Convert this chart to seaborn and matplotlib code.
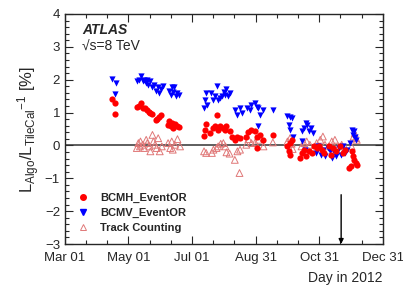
import matplotlib
matplotlib.use('Agg')
import matplotlib.pyplot as plt
from matplotlib.ticker import FixedLocator, MultipleLocator
from matplotlib.lines import Line2D
import seaborn as sns

# day of year 2012 (Mar 01 = 61) and relative deviation in %
bcmh_day = [106, 109, 109,
            130.5, 132.5, 134, 136, 138, 140, 141.5, 143, 145, 148, 149.5, 151.5, 153.5,
            160, 161, 162.5, 164, 165, 167, 169, 170,
            194.5, 195.5, 196.5, 200, 203, 205, 207, 208, 210, 212.5, 214.5, 216, 219, 221,
            224, 226.5, 229, 235, 237, 240, 243.5, 245, 245.5, 248, 251.5, 260.5,
            274.5, 276, 277, 278.5, 276.5,
            287, 288.5, 290.5, 292.5, 295.5, 298, 299.5,
            303, 305, 307.5, 309.5, 314, 316, 318.5, 321.5, 325, 327.5, 330,
            334, 335.5, 337, 338.5, 340, 341, 336.5]
bcmh_val = [1.41, 1.28, 0.95,
            1.17, 1.2, 1.29, 1.14, 1.14, 1.08, 1.03, 0.98, 0.96, 0.76, 0.8, 0.86, 0.93,
            0.63, 0.73, 0.58, 0.68, 0.53, 0.66, 0.58, 0.56,
            0.29, 0.48, 0.66, 0.38, 0.53, 0.58, 0.93, 0.48, 0.58, 0.53, 0.48, 0.58, 0.43, 0.27,
            0.17, 0.27, 0.22, 0.27, 0.4, 0.46, 0.43, -0.08, 0.25, 0.32, 0.17, 0.32,
            -0.03, -0.18, -0.28, 0.15, 0.07,
            -0.38, -0.23, -0.13, -0.33, -0.18, -0.23, -0.03,
            -0.08, -0.03, -0.13, -0.23, -0.03, -0.28, -0.08, -0.18, -0.03, -0.23, -0.13,
            -0.69, -0.64, -0.33, -0.44, -0.54, -0.59, -0.18]

bcmv_day = [106, 110, 109,
            130, 132, 134, 136, 137, 139, 140, 141, 143, 145, 146.5,
            148, 150, 151, 153, 155,
            161, 162.5, 164, 165, 166, 167.5, 169, 170,
            194.5, 195.5, 196.5, 197, 201, 203, 205, 207, 208, 210, 212, 214, 215, 216, 217.5, 219,
            224, 226.5, 229, 230.5, 235.5, 238.5, 240, 243.5, 245, 246.5, 248, 251.5, 260.5, 246.5,
            274.5, 276.5, 278.5, 275.5, 277, 279.5,
            288, 290, 292.5, 293.5, 295.5, 297, 299, 288, 291.5,
            302, 304, 306.5, 308.5, 310.5, 313, 315, 317, 318.5, 321, 323.5, 325.5, 328, 330, 331.5,
            336, 338, 337, 339, 340, 334.5]
bcmv_val = [2.03, 1.9, 1.56,
            1.95, 2.0, 2.1, 1.95, 2.0, 1.9, 2.0, 1.85, 1.95, 1.77, 1.85,
            1.67, 1.77, 1.61, 1.71, 1.81,
            1.67, 1.54, 1.77, 1.64, 1.77, 1.49, 1.59, 1.54,
            1.13, 1.39, 1.59, 1.23, 1.59, 1.39, 1.49, 1.81, 1.39, 1.44, 1.49, 1.64, 1.54, 1.71, 1.49, 1.59,
            1.08, 0.93, 1.13, 0.98, 1.13, 1.08, 1.23, 1.29, 1.17, 1.13, 0.93, 1.08, 1.08, 0.6,
            0.88, 0.86, 0.83, 0.63, 0.46, 0.27,
            0.43, 0.53, 0.68, 0.63, 0.43, 0.53, 0.38, 0.12, -0.13,
            -0.23, -0.03, -0.28, -0.13, -0.33, -0.08, -0.18, -0.38, -0.13, -0.33, -0.08, -0.28, -0.03, -0.23, -0.13,
            0.48, 0.43, 0.32, 0.25, 0.17, 0.07]

track_day = [130, 131.5, 133, 133.5, 135.5, 137, 139, 140, 142, 143, 145, 146, 147.5, 149, 150.5,
             152, 154, 160, 162, 163.5, 164.5, 166.5, 169, 171.5,
             194.5, 196.5, 202, 203.5, 206.5, 208, 210.5, 213, 215, 216, 219, 224, 226.5, 228.5,
             229, 235, 237, 240, 243.5, 246.5, 251.5, 260.5,
             274.5, 277, 278.5, 279.5,
             288, 290.5, 293, 296, 299.5,
             302.5, 306, 308.5, 310.5, 314, 317, 320, 323.5, 326.5, 330,
             336, 338, 339, 340, 341]
track_val = [-0.08, 0.07, -0.03, 0.12, 0.02, -0.08, 0.17, 0.07, -0.03, -0.18, 0.32, 0.12, 0.02, -0.08, 0.22,
             -0.18, -0.03, 0.07, -0.08, 0.12, -0.13, 0.02, 0.19, -0.03,
             -0.18, -0.23, -0.23, -0.13, -0.08, -0.03, 0.05, 0.07, -0.03, -0.21, -0.25, -0.44, -0.18, -0.84,
             -0.13, 0.02, 0.19, 0.07, 0.09, 0.17, -0.03, 0.09,
             0.12, 0.22, 0.05, -0.11,
             -0.03, 0.07, 0.12, 0.02, -0.08,
             0.07, 0.17, 0.27, 0.02, -0.03, 0.12, 0.17, -0.03, 0.02, -0.08,
             -0.03, 0.27, 0.37, 0.22, 0.17]

tick_days = [61, 122, 183, 244, 305, 366]
tick_labels = ['Mar 01', 'May 01', 'Jul 01', 'Aug 31', 'Oct 31', 'Dec 31']
arrow_day = 326

sns.set_style('ticks')
plt.rcParams['font.family'] = ['Liberation Sans', 'DejaVu Sans']
plt.rcParams['mathtext.fontset'] = 'custom'
plt.rcParams['mathtext.rm'] = 'Liberation Sans'
plt.rcParams['mathtext.it'] = 'Liberation Sans:italic'

fig = plt.figure(figsize=(4.03, 2.91), dpi=100)
ax = fig.add_axes([0.161, 0.1615, 0.789, 0.7905])

red = '#ff0000'
blue = '#0000ff'
pink = '#e07878'

ax.axhline(0, color='#333333', lw=1.1, zorder=1)

sns.scatterplot(x=track_day, y=track_val, ax=ax, marker='^', s=24,
                facecolors='none', edgecolor=pink, linewidth=0.7, zorder=2)
sns.scatterplot(x=bcmv_day, y=bcmv_val, ax=ax, marker='v', s=20,
                color=blue, edgecolor=blue, linewidth=0, zorder=3)
sns.scatterplot(x=bcmh_day, y=bcmh_val, ax=ax, marker='o', s=20,
                color=red, edgecolor=red, linewidth=0, zorder=4)
for coll in ax.collections[:1]:
    coll.set_facecolor('none')
    coll.set_edgecolor(pink)

ax.set_xlim(61, 366)
ax.set_ylim(-3, 4)
ax.xaxis.set_major_locator(FixedLocator(tick_days))
ax.set_xticklabels(tick_labels)
ax.xaxis.set_minor_locator(MultipleLocator(61 / 3))
ax.yaxis.set_major_locator(MultipleLocator(1))
ax.yaxis.set_minor_locator(MultipleLocator(0.2))
ax.tick_params(which='both', direction='in', top=True, right=True, labelsize=9.5, width=0.8)
ax.tick_params(which='major', length=6)
ax.tick_params(which='minor', length=3)
ax.tick_params(axis='x', which='major', pad=6)
for s in ax.spines.values():
    s.set_linewidth(1.0)

ax.set_ylabel(r'$\mathrm{L_{Algo}/L_{TileCal}{}^{-1}}$ [%]', fontsize=12, labelpad=2)
ax.set_xlabel('Day in 2012', fontsize=10, loc='right', labelpad=5)

ax.text(0.055, 0.93, 'ATLAS', transform=ax.transAxes, fontsize=10,
        fontweight='bold', style='italic', va='center')
ax.text(0.055, 0.857, '\u221as=8 TeV', transform=ax.transAxes, fontsize=10, va='center')

ax.annotate('', xy=(arrow_day, -3), xytext=(arrow_day, -1.5),
            arrowprops=dict(arrowstyle='-|>', color='black', lw=1.0, mutation_scale=7,
                            shrinkA=0, shrinkB=0))

handles = [
    Line2D([], [], ls='none', marker='o', ms=4, color=red),
    Line2D([], [], ls='none', marker='v', ms=4, color=blue),
    Line2D([], [], ls='none', marker='^', ms=4.5, mfc='none', mec=pink, mew=0.7),
]
leg = ax.legend(handles, ['BCMH_EventOR', 'BCMV_EventOR', 'Track Counting'],
                loc='lower left', bbox_to_anchor=(0.0, 0.005), frameon=False,
                prop={'weight': 'bold', 'size': 8}, handletextpad=0.8,
                labelspacing=0.45, handlelength=1.5)

fig.savefig('out.png', dpi=100)
